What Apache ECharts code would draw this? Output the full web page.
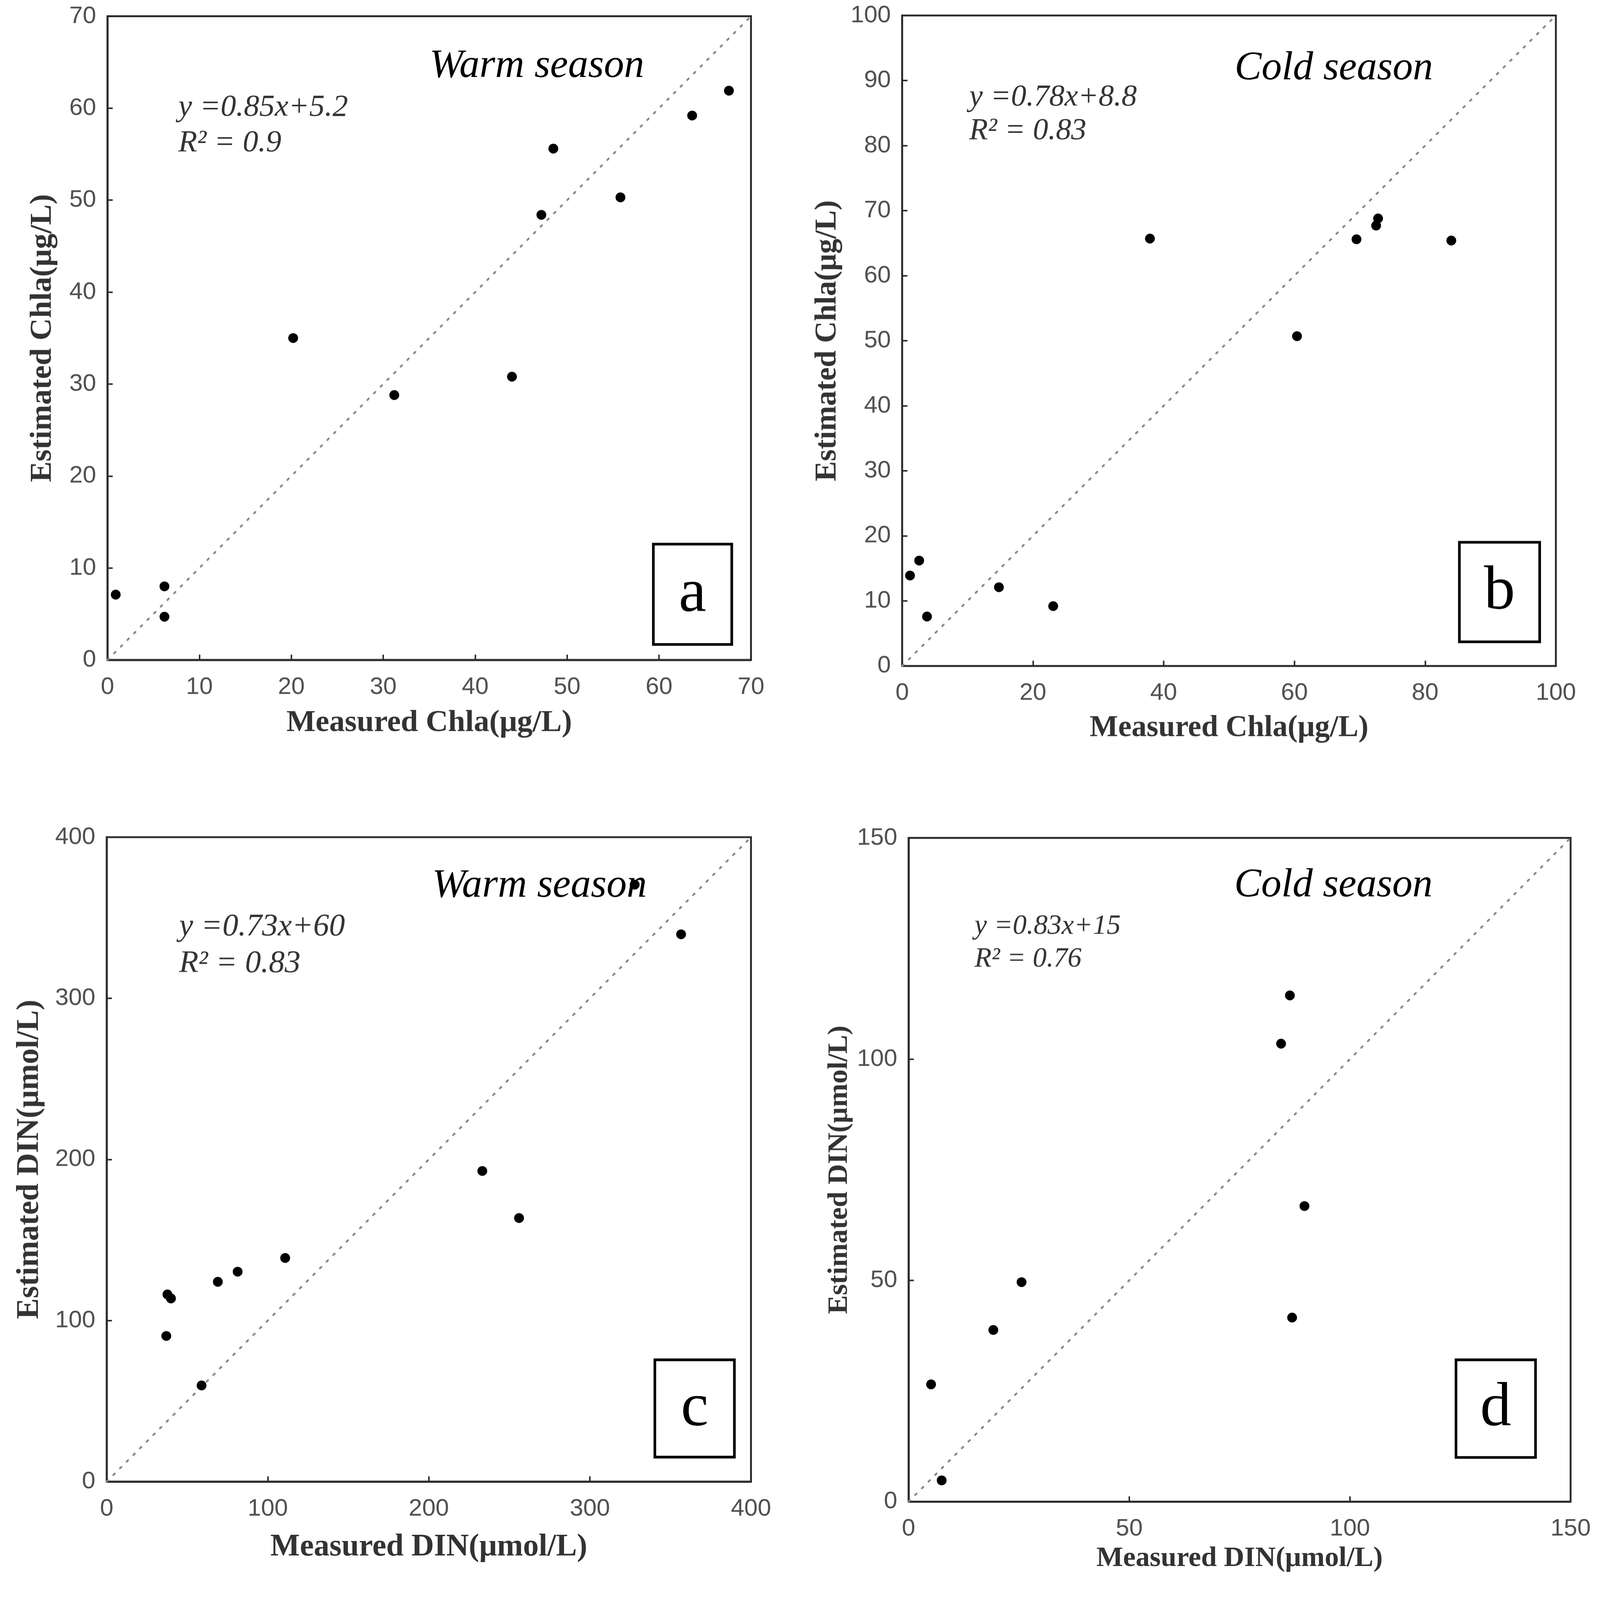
<!DOCTYPE html>
<html><head><meta charset="utf-8">
<script src="https://cdn.jsdelivr.net/npm/echarts@6/dist/echarts.min.js"></script>
<style>html,body{margin:0;padding:0;background:#fff;overflow:hidden}#c{width:4244px;height:4198px}</style>
</head><body><div id="c"></div>
<script>
// ---- data ----
const aMeasured  = [0.9, 6.2, 6.2, 20.2, 31.2, 44.0, 47.2, 48.5, 55.8, 63.6, 67.6];
const aEstimated = [7.1, 8.0, 4.7, 35.0, 28.8, 30.8, 48.4, 55.6, 50.3, 59.2, 61.9];
const bMeasured  = [1.2, 2.6, 3.8, 14.8, 23.1, 37.9, 60.4, 69.5, 72.5, 72.8, 84.0];
const bEstimated = [13.9, 16.2, 7.6, 12.1, 9.2, 65.7, 50.7, 65.6, 67.7, 68.8, 65.4];
const cMeasured  = [37.0, 37.7, 39.9, 58.9, 69.0, 81.3, 110.8, 233.2, 256.0, 327.8, 356.6];
const cEstimated = [90.4, 116.2, 113.7, 59.7, 124.0, 130.3, 138.8, 192.8, 163.6, 370.5, 339.7];
const dMeasured  = [5.1, 7.5, 19.2, 25.6, 84.4, 86.4, 86.9, 89.7];
const dEstimated = [26.5, 4.8, 38.8, 49.6, 103.5, 114.4, 41.6, 66.8];

const panelLetters = ['a', 'b', 'c', 'd'];
const seasons = ['Warm season', 'Cold season', 'Warm season', 'Cold season'];
const equations = ['y =0.85x+5.2', 'y =0.78x+8.8', 'y =0.73x+60', 'y =0.83x+15'];
const r2Texts = ['R\u00B2 = 0.9', 'R\u00B2 = 0.83', 'R\u00B2 = 0.83', 'R\u00B2 = 0.76'];
const xNames = ['Measured Chla(\u03BCg/L)', 'Measured Chla(\u03BCg/L)', 'Measured DIN(\u03BCmol/L)', 'Measured DIN(\u03BCmol/L)'];
const yNames = ['Estimated Chla(\u03BCg/L)', 'Estimated Chla(\u03BCg/L)', 'Estimated DIN(\u03BCmol/L)', 'Estimated DIN(\u03BCmol/L)'];
const axisMax = [70, 100, 400, 150];
const xInterval = [10, 20, 100, 50];
const yInterval = [10, 10, 100, 50];

const measured = [aMeasured, bMeasured, cMeasured, dMeasured];
const estimated = [aEstimated, bEstimated, cEstimated, dEstimated];

// ---- layout (pixels at 4244x4198) ----
const W0 = 4244, H0 = 4198;
const S = Math.min((window.innerWidth || W0) / W0, (window.innerHeight || H0) / H0) || 1;
const p = v => v * S;

const grids = [
  {left: 285, top: 43, width: 1707, height: 1707},
  {left: 2393, top: 41, width: 1734, height: 1725},
  {left: 283, top: 2220, width: 1709, height: 1709},
  {left: 2410, top: 2222, width: 1756, height: 1760}
];
const nameFont = [82, 80, 83, 75];
const xNameGap = [127, 125, 133, 114];
const yNameGap = [131, 158, 163, 146];
const seasonPos = [[1424, 176], [3538, 182], [1431, 2350], [3537, 2349]];
const eqPos = [[473, 285, 379, 82], [2571, 258, 348, 81], [475, 2458, 2556, 84], [2585, 2457, 2544, 74]];
const boxPos = [[1733, 1443, 208, 266], [3871, 1438, 213, 264], [1737, 3606, 211, 258], [3862, 3606, 211, 259]];

const serif = "'Liberation Serif', 'Times New Roman', serif";
const sans = "'Liberation Sans', Arial, sans-serif";

const el = document.getElementById('c');
el.style.width = p(W0) + 'px';
el.style.height = p(H0) + 'px';

const option = {
  backgroundColor: '#fff',
  animation: false,
  grid: [], xAxis: [], yAxis: [], series: [], graphic: []
};

for (let i = 0; i < 4; i++) {
  const g = grids[i];
  option.grid.push({show: true, borderColor: '#2b2b2b', borderWidth: p(5), containLabel: false,
    left: p(g.left), top: p(g.top), width: p(g.width), height: p(g.height)});
  const axisCommon = {
    type: 'value', min: 0, max: axisMax[i], gridIndex: i,
    nameLocation: 'middle',
    nameTextStyle: {fontFamily: serif, fontWeight: 'bold', fontSize: p(nameFont[i]), color: '#333'},
    axisLine: {show: true, lineStyle: {color: '#2b2b2b', width: p(5)}},
    axisTick: {show: true, inside: true, length: p(14), lineStyle: {color: '#2b2b2b', width: p(4)}},
    axisLabel: {show: true, fontFamily: sans, fontSize: p(64), color: '#505050', showMinLabel: true, showMaxLabel: true},
    splitLine: {show: false}
  };
  option.xAxis.push(Object.assign({}, axisCommon, {
    name: xNames[i], nameGap: p(xNameGap[i]), interval: xInterval[i],
    axisLabel: Object.assign({}, axisCommon.axisLabel, {margin: p(40)})
  }));
  option.yAxis.push(Object.assign({}, axisCommon, {
    name: yNames[i], nameGap: p(yNameGap[i]), interval: yInterval[i],
    axisLabel: Object.assign({}, axisCommon.axisLabel, {margin: p(30)})
  }));
  // 1:1 reference line
  option.series.push({
    type: 'line', xAxisIndex: i, yAxisIndex: i, symbol: 'none', silent: true,
    data: [[0, 0], [axisMax[i], axisMax[i]]],
    lineStyle: {color: '#888', width: p(5), type: [p(5), p(20)], cap: 'round'}, z: 1
  });
  option.series.push({
    type: 'scatter', xAxisIndex: i, yAxisIndex: i, symbol: 'circle', symbolSize: p(26),
    itemStyle: {color: '#000', opacity: 1},
    data: measured[i].map((v, k) => [v, estimated[i][k]]), z: 3
  });
  // annotations
  option.graphic.push({
    type: 'text', x: p(seasonPos[i][0]), y: p(seasonPos[i][1]), z: 2,
    style: {text: seasons[i], font: 'italic ' + p(107) + 'px ' + serif, fill: '#000', align: 'center', verticalAlign: 'middle'}
  });
  option.graphic.push({
    type: 'text', x: p(eqPos[i][0]), y: p(eqPos[i][1]), z: 2,
    style: {text: equations[i], font: 'italic ' + p(eqPos[i][3]) + 'px ' + serif, fill: '#333', align: 'left', verticalAlign: 'middle'}
  });
  option.graphic.push({
    type: 'text', x: p(eqPos[i][0]), y: p(eqPos[i][2]), z: 2,
    style: {text: r2Texts[i], font: 'italic ' + p(eqPos[i][3]) + 'px ' + serif, fill: '#333', align: 'left', verticalAlign: 'middle'}
  });
  const b = boxPos[i];
  option.graphic.push({
    type: 'rect', z: 4, shape: {x: p(b[0]), y: p(b[1]), width: p(b[2]), height: p(b[3])},
    style: {fill: '#fff', stroke: '#000', lineWidth: p(7)}
  });
  option.graphic.push({
    type: 'text', z: 5, x: p(b[0] + b[2] / 2), y: p(b[1] + b[3] / 2),
    style: {text: panelLetters[i], font: p(165) + 'px ' + serif, fill: '#000', align: 'center', verticalAlign: 'middle'}
  });
}

const chart = echarts.init(el, null, {renderer: 'canvas', width: p(W0), height: p(H0)});
chart.setOption(option);
</script>
</body></html>
